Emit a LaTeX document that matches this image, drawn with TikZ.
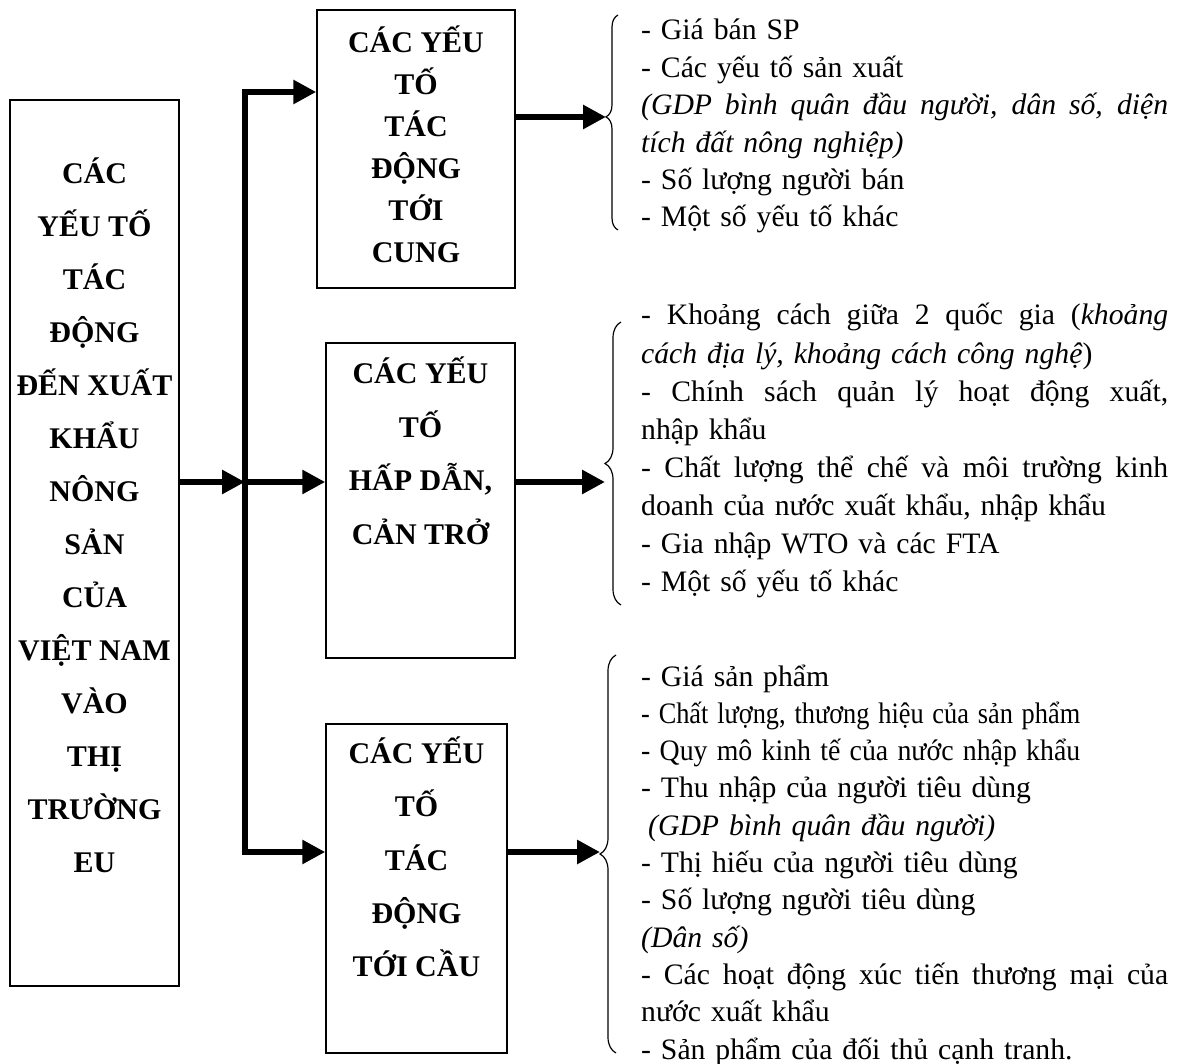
\documentclass[tikz,border=0pt]{standalone}
\usepackage{fontspec}
\setmainfont{Liberation Serif}
\usetikzlibrary{arrows.meta,decorations.pathreplacing}
\newcommand{\fullline}[1]{\leavevmode\hbox to 527pt{\spaceskip=\fontdimen2\font plus 1fil\relax #1}}
\newcommand{\narrowline}[1]{\resizebox{439pt}{\height}{#1}}
\begin{document}
\begin{tikzpicture}[x=1pt,y=-1pt,
    box/.style={draw,line width=1.5pt,inner sep=0pt},
    boxtext/.style={align=center,inner sep=0pt,font=\fontsize{30}{53}\selectfont\bfseries},
    listtext/.style={anchor=base west,text width=527pt,align=left,inner sep=0pt},
    fatarrow/.style={line width=6.5pt,-{Triangle[length=23pt,width=23pt]}},
    curly/.style={decorate,line width=1.2pt}]
  \useasboundingbox (0,0) rectangle (1181,1064);
  %% boxes
  \node[box,minimum width=169pt,minimum height=886pt] (factors) at (94.5,543) {};
  \node[box,minimum width=198pt,minimum height=278pt] (supply) at (416,149) {};
  \node[box,minimum width=189pt,minimum height=315pt] (attract) at (420.5,500.5) {};
  \node[box,minimum width=181pt,minimum height=329pt] (demand) at (416.5,888.5) {};
  %% box titles
  \node[boxtext] (factorstitle) at (94.5,515.5) {CÁC\\YẾU TỐ\\TÁC\\ĐỘNG\\ĐẾN XUẤT\\KHẨU\\NÔNG\\SẢN\\CỦA\\VIỆT NAM\\VÀO\\THỊ\\TRƯỜNG\\EU};
  \node[boxtext,font=\fontsize{30}{42}\selectfont\bfseries] (supplytitle) at (416,144) {CÁC YẾU\\TỐ\\TÁC\\ĐỘNG\\TỚI\\CUNG};
  \node[boxtext,font=\fontsize{30}{53.5}\selectfont\bfseries] (attracttitle) at (420.5,451) {CÁC YẾU\\TỐ\\HẤP DẪN,\\CẢN TRỞ};
  \node[boxtext,font=\fontsize{30}{53.3}\selectfont\bfseries] (demandtitle) at (416.5,857) {CÁC YẾU\\TỐ\\TÁC\\ĐỘNG\\TỚI CẦU};
  %% bus and arrows
  \coordinate (bustop) at (245,92);
  \coordinate (busmid) at (245,482);
  \coordinate (busbot) at (245,852);
  \draw[fatarrow] (busmid) |- (bustop -| supply.west);
  \draw[fatarrow] (busmid) |- (busbot -| demand.west);
  \draw[fatarrow] (factors.east |- busmid) -- (busmid);
  \draw[fatarrow] (busmid) -- (busmid -| attract.west);
  \coordinate (supplytip) at (606,117);
  \coordinate (attracttip) at (605,482);
  \coordinate (demandtip) at (600,852);
  \draw[fatarrow] (supplytip -| supply.east) -- (supplytip);
  \draw[fatarrow] (attracttip -| attract.east) -- (attracttip);
  \draw[fatarrow] (demandtip -| demand.east) -- (demandtip);
  %% braces
  \draw[curly,decoration={brace,amplitude=12pt,aspect=0.526}] (618,230) -- (618,15);
  \draw[curly,decoration={brace,amplitude=16pt,aspect=0.5}] (621,605) -- (621,322);
  \draw[curly,decoration={brace,amplitude=16pt,aspect=0.5}] (616,1053) -- (616,655);
  %% lists
  \node[listtext,font=\fontsize{29.7}{37.4}\selectfont] (supplylist) at (641,40) {%
    - Giá bán SP\\
    - Các yếu tố sản xuất\\
    \fullline{\itshape (GDP bình quân đầu người, dân số, diện}\\
    \textit{tích đất nông nghiệp)}\\
    - Số lượng người bán\\
    - Một số yếu tố khác};
  \node[listtext,font=\fontsize{29.7}{38.1}\selectfont] (attractlist) at (641,325) {%
    \fullline{- Khoảng cách giữa 2 quốc gia (\textit{khoảng}}\\
    \textit{cách địa lý, khoảng cách công nghệ})\\
    \fullline{- Chính sách quản lý hoạt động xuất,}\\
    nhập khẩu\\
    \fullline{- Chất lượng thể chế và môi trường kinh}\\
    doanh của nước xuất khẩu, nhập khẩu\\
    - Gia nhập WTO và các FTA\\
    - Một số yếu tố khác};
  \node[listtext,font=\fontsize{29.7}{37.3}\selectfont] (demandlist) at (641,686) {%
    - Giá sản phẩm\\
    \narrowline{- Chất lượng, thương hiệu của sản phẩm}\\
    \narrowline{- Quy mô kinh tế của nước nhập khẩu}\\
    - Thu nhập của người tiêu dùng\\
    \hspace*{7pt}\textit{(GDP bình quân đầu người)}\\
    - Thị hiếu của người tiêu dùng\\
    - Số lượng người tiêu dùng\\
    \textit{(Dân số)}\\
    \fullline{- Các hoạt động xúc tiến thương mại của}\\
    nước xuất khẩu\\
    - Sản phẩm của đối thủ cạnh tranh.};
\end{tikzpicture}
\end{document}
